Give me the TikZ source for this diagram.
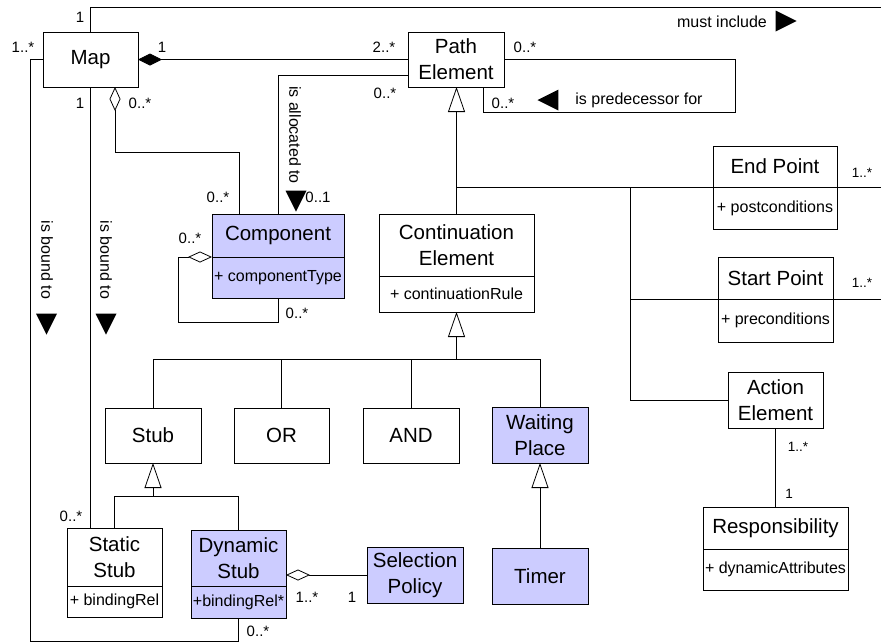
\documentclass[tikz,border=0pt]{standalone}
\usepackage{fontspec}
\setmainfont{Liberation Sans}
\usetikzlibrary{arrows.meta,positioning,shapes.geometric}
\definecolor{umlfill}{RGB}{204,204,255}
\newcommand\clsfont{\fontsize{20.5}{26}\selectfont}
\newcommand\attfont{\fontsize{16}{19}\selectfont}
\newcommand\mulfont{\fontsize{15}{18}\selectfont}
\newcommand\smulfont{\fontsize{13.5}{16}\selectfont}
\tikzset{
  cls/.style={draw,rectangle,inner sep=0pt,outer sep=0pt,align=center,font=\clsfont,line width=0.8pt},
  att/.style={draw,rectangle,inner sep=1pt,outer sep=0pt,align=center,font=\attfont,line width=0.8pt},
  hi/.style={fill=umlfill},
  mult/.style={inner sep=0pt,font=\mulfont},
  smult/.style={inner sep=0pt,font=\smulfont},
  role/.style={inner sep=0pt,font=\attfont},
  dirmark/.style={isosceles triangle,isosceles triangle stretches,fill=black,inner sep=0pt,outer sep=0pt,minimum width=21pt,minimum height=21pt},
  assoc/.style={line width=0.8pt},
  gen/.style={assoc,-{Triangle[open,length=25pt,width=17pt]}},
  aggr/.style={assoc,-{Diamond[open,length=24pt,width=11pt]}},
  compos/.style={assoc,-{Diamond[length=24pt,width=12pt]}}
}

\begin{document}
\begin{tikzpicture}[x=1pt,y=-1pt]
\useasboundingbox (0,0) rectangle (881,643);

% classes
\node[cls,minimum width=95pt,minimum height=55pt] (map) at (90.5,59.5) {Map};
\node[cls,minimum width=96pt,minimum height=55pt] (path) at (456,59.5) {Path\\Element};

\node[cls,hi,minimum width=132pt,minimum height=43pt] (comp) at (278,235.5) {Component};
\node[att,hi,minimum width=132pt,minimum height=41pt,below=0pt of comp] (compattr) {+ componentType};

\node[cls,minimum width=155pt,minimum height=62pt] (cont) at (456.5,245) {Continuation\\Element};
\node[att,minimum width=155pt,minimum height=36pt,below=0pt of cont] (contattr) {+ continuationRule};

\node[cls,minimum width=124pt,minimum height=41pt] (endp) at (775,166.5) {End Point};
\node[att,minimum width=124pt,minimum height=42pt,below=0pt of endp] (endpattr) {+ postconditions};

\node[cls,minimum width=115pt,minimum height=42pt] (startp) at (775.5,278) {Start Point};
\node[att,minimum width=115pt,minimum height=43pt,below=0pt of startp] (startpattr) {+ preconditions};

\node[cls,minimum width=95pt,minimum height=56pt] (action) at (775.5,400) {Action\\Element};
\node[cls,minimum width=145pt,minimum height=42pt] (resp) at (775.5,528) {Responsibility};
\node[att,minimum width=145pt,minimum height=41pt,below=0pt of resp] (respattr) {+ dynamicAttributes};

\node[cls,minimum width=96pt,minimum height=55pt] (stub) at (153,435.5) {Stub};
\node[cls,minimum width=95pt,minimum height=55pt] (orn) at (281.5,435.5) {OR};
\node[cls,minimum width=96pt,minimum height=55pt] (andn) at (411,435.5) {AND};
\node[cls,hi,minimum width=96pt,minimum height=56pt] (wait) at (540,435) {Waiting\\Place};

\node[cls,minimum width=95pt,minimum height=58pt] (sstub) at (114.5,557) {Static\\Stub};
\node[att,minimum width=95pt,minimum height=31pt,below=0pt of sstub] (sstubattr) {+ bindingRel};
\node[cls,hi,minimum width=95pt,minimum height=56pt] (dstub) at (238.5,558) {Dynamic\\Stub};
\node[att,hi,minimum width=95pt,minimum height=32pt,below=0pt of dstub] (dstubattr) {+bindingRel*};
\node[cls,hi,minimum width=96pt,minimum height=56pt] (selp) at (415,575) {Selection\\Policy};
\node[cls,hi,minimum width=96pt,minimum height=56pt] (timer) at (540,576) {Timer};

% bend points
\coordinate (mustend) at (881,7);
\coordinate (bndcorner) at (30,641);
\coordinate (mapagg) at (115,152);
\coordinate (predne) at (735,59.5);
\coordinate (predsw) at (483,112);
\coordinate (gjoin) at (630,187);
\coordinate (endpout) at (881,187);
\coordinate (startpout) at (881,299);
\coordinate (contbar) at (456.5,359);
\coordinate (stubbar) at (153,496);
\coordinate (comploop) at (178,322);

% associations
\draw[assoc] (map.north) |- (mustend);
\draw[assoc] (map.west) -| (bndcorner) -| (dstubattr.south);
\draw[assoc] (map.south) -- (map.south |- sstub.north);
\draw[aggr] ([xshift=27pt]comp.north west) |- (mapagg) -- (mapagg |- map.south);
\draw[compos] (path.west) -- (map.east);
\draw[assoc] ([yshift=-15.5pt]path.west) -| (comp.north);
\draw[assoc] (path.east) -- (predne) |- (predsw) -- (predsw |- path.south);
\draw[aggr] (compattr.south) |- (comploop) |- (compattr.north west);
\draw[aggr] (selp.west) -- (selp.west -| dstub.east);
\draw[assoc] (action.south) -- (resp.north);

% generalizations
\draw[gen] (cont.north) -- (cont.north |- path.south);
\draw[assoc] (cont.north |- endp.south) -- (endp.south west);
\draw[assoc] (endp.south east) -- (endpout);
\draw[assoc] (gjoin) |- (action.west);
\draw[assoc] (gjoin |- startp.south) -- (startp.south west);
\draw[assoc] (startp.south east) -- (startpout);

\draw[gen] (contbar) -- (contattr.south);
\draw[assoc] (stub.north) |- (contbar);
\draw[assoc] (orn.north) -- (orn.north |- contbar);
\draw[assoc] (andn.north) -- (andn.north |- contbar);
\draw[assoc] (wait.north) |- (contbar);

\draw[gen] (stubbar) -- (stub.south);
\draw[assoc] (sstub.north) |- (stubbar);
\draw[assoc] (dstub.north) |- (stubbar);
\draw[gen] (timer.north) -- (wait.south);

% multiplicities
\node[mult] (m1) at (80,17) {1};
\node[mult] (m2) at (23,47) {1..*};
\node[mult] (m3) at (162,47) {1};
\node[mult] (m4) at (384,47) {2..*};
\node[mult] (m5) at (525,47) {0..*};
\node[mult] (m6) at (80,103) {1};
\node[mult] (m7) at (140,103) {0..*};
\node[mult] (m8) at (385,93) {0..*};
\node[mult] (m9) at (503,103) {0..*};
\node[mult] (m10) at (218,197) {0..*};
\node[mult] (m11) at (318,197) {0..1};
\node[mult] (m12) at (190,238) {0..*};
\node[mult] (m13) at (297,313) {0..*};
\node[mult] (m14) at (71,516) {0..*};
\node[mult] (m15) at (307,597) {1..*};
\node[mult] (m16) at (352,597) {1};
\node[mult] (m17) at (258,631) {0..*};
\node[smult] (m18) at (862,173) {1..*};
\node[smult] (m19) at (862,283) {1..*};
\node[smult] (m20) at (798,447) {1..*};
\node[smult] (m21) at (789,494) {1};

% role names
\node[role] (mustlbl) at (722,22) {must include};
\node[dirmark] (mustdir) at (782,21) {};
\node[role] (predlbl) at (639,100) {is predecessor for};
\node[dirmark,shape border rotate=180] (preddir) at (552,100) {};
\node[role,rotate=-90] (alloclbl) at (295,135) {is allocated to};
\node[dirmark,shape border rotate=270] (allocdir) at (296,197) {};
\node[role,rotate=-90] (bnd1lbl) at (47,260) {is bound to};
\node[dirmark,shape border rotate=270] (bnd1dir) at (46.5,320) {};
\node[role,rotate=-90] (bnd2lbl) at (106,260) {is bound to};
\node[dirmark,shape border rotate=270] (bnd2dir) at (106,320) {};

\end{tikzpicture}
\end{document}
